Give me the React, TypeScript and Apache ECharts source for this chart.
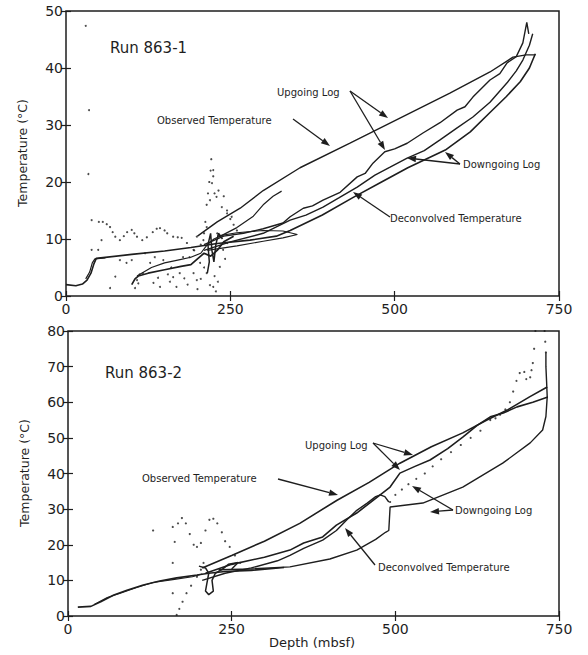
import React, { useEffect, useRef } from "react";
import * as echarts from "echarts";

type P = [number, number];

// ---------- axis ticks ----------
const depthTicks = [0, 250, 500, 750];
const run1TempTicks = [0, 10, 20, 30, 40, 50];
const run2TempTicks = [0, 10, 20, 30, 40, 50, 60, 70, 80];

// ---------- Run 863-1 (top panel) ----------
const run1Observed: P[] = [
  [200, 10.5], [230, 13], [265, 15.4], [300, 18.5], [356, 22.5], [432, 26.8], [508, 31.2],
  [584, 35.6], [645, 39.3], [680, 41.9], [700, 42.3], [714, 42.3],
];
const run1Upgoing: P[] = [
  [210, 9], [240, 10.5], [270, 11], [300, 11.8], [330, 12.8], [341, 13.9], [361, 15.4], [375, 15.8],
  [391, 16.8], [417, 18.2], [443, 20.9], [455, 21.5], [467, 23.3], [485, 25.3], [500, 25.8],
  [519, 26.8], [543, 28.6], [569, 30.4], [595, 32.6], [607, 33.2], [619, 34.9], [645, 37.9],
  [660, 39], [671, 40.9], [685, 42], [695, 44.4], [701, 48], [704, 46],
];
const run1Downgoing: P[] = [
  [210, 8], [250, 9.5], [300, 11], [341, 13.3], [365, 14.2], [391, 15.6], [415, 17.2], [443, 19.1],
  [470, 21.2], [493, 22.6], [519, 24.2], [545, 25.5], [569, 27.4], [595, 29.5], [619, 31.4],
  [645, 34], [671, 37.4], [685, 39.5], [695, 41.4], [705, 44], [710, 46],
];
const run1Deconvolved: P[] = [
  [0, 2], [15, 1.8], [25, 2.1], [32, 2.8], [38, 4], [42, 5.5], [46, 6.6], [100, 7.3], [150, 7.9],
  [190, 8.5], [230, 9.2], [280, 9.8], [320, 10.5], [341, 11.5], [390, 14.2], [437, 17.3],
  [480, 20], [520, 22.5], [577, 25.6], [615, 28.8], [645, 32.2], [670, 35], [691, 37.6],
  [705, 40], [714, 42.5],
];
const run1Loop: P[] = [
  [215, 8], [260, 8.8], [300, 9.6], [330, 10.2], [352, 10.8], [330, 11.4], [300, 11.5],
  [260, 11.1], [230, 10.5],
];
const run1ShallowA: P[] = [
  [100, 2], [105, 3], [110, 3.5], [125, 4], [150, 4.6], [175, 5.2], [190, 5.5], [200, 6.5],
  [210, 7.5], [220, 7], [230, 8], [240, 9.5], [255, 10.5],
];
const run1ShallowB: P[] = [
  [108, 3.5], [130, 5], [150, 5.8], [170, 6.3], [190, 6.8], [205, 7.5], [215, 9], [225, 10],
  [235, 10.5], [260, 12], [285, 14], [300, 16], [315, 17.5], [328, 18.4],
];
const run1ShallowC: P[] = [
  [30, 3], [36, 4.2], [40, 5.8], [44, 6.5], [60, 6.7],
];
const run1Tangle: P[] = [
  [215, 4], [218, 6], [216, 9], [220, 11], [222, 8], [225, 6], [228, 9], [232, 11], [238, 10],
];
const run1ObservedDots: P[] = [
  [50, 13], [56, 13], [62, 12.6], [67, 12.1], [71, 11.2], [75, 10.4], [82, 9.8], [88, 10.5],
  [93, 11.2], [100, 11.6], [104, 11], [108, 10.4], [116, 9.8], [123, 10.3], [132, 11.2],
  [138, 11.8], [143, 11.9], [150, 11.5], [154, 11], [163, 10.4], [170, 10.3], [176, 10.2],
  [184, 9.3], [195, 8], [205, 9], [210, 11], [212, 13], [214, 16], [216, 18], [218, 20],
  [220, 22], [221, 24], [224, 21], [226, 18], [232, 18.5], [240, 17.5], [245, 15], [250, 13.5],
  [255, 12.5], [260, 11.5],
];
const run1ScatterDots: P[] = [
  [30, 47.4], [35, 32.6], [34, 21.4], [39, 13.3], [54, 9.8], [39, 8.1], [49, 8.1], [75, 3.4],
  [67, 1.4], [82, 6.3], [92, 5.8], [100, 6.3], [108, 2.8], [117, 4], [128, 5.8], [133, 2.3],
  [143, 1.6], [148, 6.3], [158, 2.5], [163, 3.3], [168, 1.6], [173, 4], [178, 6.8], [188, 6.8],
  [194, 4], [199, 2.8], [204, 5.8], [214, 4], [219, 1.9], [224, 1.6], [231, 2.5], [234, 5.1],
  [239, 8.1], [245, 9.3], [230, 11], [214, 12.1], [222, 19.8], [224, 22.1], [219, 16.8],
  [229, 17.4], [237, 15.6], [245, 14.5], [252, 13.9], [209, 9.8], [194, 8.1], [199, 10.4],
  [105, 1.4], [110, 2.2], [112, 3.8], [140, 3.2], [160, 5], [185, 2], [205, 3], [228, 0.8],
  [120, 7.5], [135, 6.8], [155, 3.8], [180, 3.1], [200, 1.2], [210, 5], [226, 3.5], [242, 6.5],
];

// ---------- Run 863-2 (bottom panel) ----------
const run2Observed: P[] = [
  [205, 13.5], [250, 17], [300, 21], [354, 26], [411, 32.5], [460, 37.5], [507, 42.9],
  [555, 47.5], [603, 51.4], [640, 55], [671, 57.8], [705, 61.5], [732, 64.3],
];
const run2Upgoing: P[] = [
  [210, 12], [250, 14.5], [300, 16.5], [339, 18.5], [360, 20.5], [389, 22.2], [410, 25.5],
  [441, 28.9], [470, 33], [492, 36.2], [507, 40.1], [530, 42], [553, 43.8], [580, 47],
  [603, 50.2], [625, 53.5], [645, 55.9], [665, 57], [686, 58.7], [710, 60], [733, 61.5],
];
const run2Downgoing: P[] = [
  [205, 10], [240, 12], [280, 13.5], [320, 15.5], [339, 17], [360, 19], [389, 21.3], [410, 24],
  [426, 27], [440, 29.5], [457, 31.7], [470, 33.5], [477, 34], [484, 33.5], [490, 32],
];
const run2DowngoingDots: P[] = [
  [492, 32], [500, 34], [510, 35.5], [520, 37], [532, 38.5], [545, 40], [557, 42], [570, 44],
  [585, 46], [600, 48], [615, 50], [630, 52], [645, 55], [653, 55.5], [660, 56.5], [668, 58],
  [675, 60], [680, 63], [685, 66], [690, 68.2], [697, 68.5], [700, 66.5], [706, 67], [708, 69],
  [710, 71], [712, 75], [714, 80], [728, 80], [729, 77], [730, 74],
];
const run2Deconvolved: P[] = [
  [230, 13], [280, 13.2], [339, 13.8], [400, 16], [441, 18.5], [470, 21.5], [485, 23.5],
  [490, 24], [492, 30.6], [542, 31.7], [603, 36.2], [664, 42.9], [706, 48.6], [725, 52.2],
  [730, 56], [732, 61.5], [731, 66], [730, 70], [730, 74],
];
const run2Shallow: P[] = [
  [15, 2.5], [35, 2.7], [50, 4], [70, 5.9], [90, 7.2], [115, 8.7], [140, 9.8], [166, 10.7],
  [197, 11.5], [215, 12], [240, 12.5], [280, 12.8], [330, 13.6],
];
const run2ShallowB: P[] = [
  [40, 3.2], [60, 5.2], [80, 6.4], [105, 8], [130, 9.4], [160, 10.2], [190, 11], [205, 11.8],
];
const run2Tangle: P[] = [
  [200, 14], [210, 13.5], [215, 12], [212, 9], [210, 7], [215, 6], [222, 7], [220, 10],
  [225, 12], [235, 13], [245, 14.5], [260, 15], [250, 13.2],
];
const run2WaveDots: P[] = [
  [168, 26], [174, 27.5], [180, 26], [186, 23], [192, 20], [197, 19.4], [203, 20.5], [210, 24],
  [216, 27], [222, 27.3], [228, 26], [235, 23.5], [240, 21], [247, 19.4], [255, 17], [263, 14.9],
  [166, 0.3], [170, 2], [175, 4], [181, 6.4], [188, 8.5], [197, 11], [203, 13], [207, 14.9],
  [130, 24], [160, 25], [163, 20.8], [160, 14.9], [160, 6.4],
];

const FONT = "DejaVu Sans";
const INK = "#1e1e1e";

function arrow(x1: number, y1: number, x2: number, y2: number) {
  const dx = x2 - x1, dy = y2 - y1;
  const len = Math.sqrt(dx * dx + dy * dy);
  const ux = dx / len, uy = dy / len;
  const hl = 9, hw = 3.2;
  const bx = x2 - ux * hl, by = y2 - uy * hl;
  return [
    { type: "line", shape: { x1, y1, x2: bx, y2: by }, style: { stroke: INK, lineWidth: 1.3 } },
    {
      type: "polygon",
      shape: { points: [[x2, y2], [bx - uy * hw, by + ux * hw], [bx + uy * hw, by - ux * hw]] },
      style: { fill: INK },
    },
  ];
}

function label(text: string, x: number, y: number, size: number, align = "left") {
  return {
    type: "text",
    x, y,
    style: { text, fill: INK, font: `${size}px "${FONT}"`, textAlign: align, textVerticalAlign: "middle" },
  };
}

export default function App() {
  const ref = useRef<HTMLDivElement>(null);
  useEffect(() => {
    if (!ref.current) return;
    const chart = echarts.init(ref.current, null, { renderer: "svg" });

    const grids = [
      { left: 66, top: 11, width: 493, height: 285 },
      { left: 68, top: 331, width: 491, height: 285 },
    ];
    const gridOpt = grids.map((g) => ({ ...g, show: true, borderColor: INK, borderWidth: 1.5, backgroundColor: "transparent" }));

    const mkX = (gi: number, pos: "bottom" | "top", labels: boolean) => ({
      type: "value", gridIndex: gi, position: pos, min: 0, max: 750, interval: 250,
      axisLine: { show: false },
      axisTick: { show: true, inside: true, length: 5, lineStyle: { color: INK, width: 1.2 } },
      axisLabel: { show: labels, color: INK, fontFamily: FONT, fontSize: 14, margin: 6,
        formatter: (v: number) => (depthTicks.includes(v) ? String(v) : "") },
      splitLine: { show: false },
    });
    const mkY = (gi: number, pos: "left" | "right", max: number, ticks: number[], labels: boolean) => ({
      type: "value", gridIndex: gi, position: pos, min: 0, max, interval: 10,
      axisLine: { show: false },
      axisTick: { show: true, inside: true, length: 5, lineStyle: { color: INK, width: 1.2 } },
      axisLabel: { show: labels, color: INK, fontFamily: FONT, fontSize: 14, margin: 3,
        formatter: (v: number) => (ticks.includes(v) ? String(v) : "") },
      splitLine: { show: false },
    });

    const line = (data: P[], gi: number, width = 1.4, type: any = "solid") => ({
      type: "line", data, xAxisIndex: gi * 2, yAxisIndex: gi * 2, symbol: "none", smooth: false,
      lineStyle: { color: INK, width, type }, silent: true,
    });
    const dots = (data: P[], gi: number, size = 2.2) => ({
      type: "scatter", data, xAxisIndex: gi * 2, yAxisIndex: gi * 2, symbolSize: size,
      itemStyle: { color: INK }, silent: true,
    });

    const graphic: any[] = [
      label("Run 863-1", 110, 48, 15),
      label("Upgoing Log", 277, 92, 10),
      label("Observed Temperature", 157, 120, 10),
      label("Downgoing Log", 463, 164, 10),
      label("Deconvolved Temperature", 390, 218, 10),
      ...arrow(293, 119, 330, 146),
      ...arrow(350, 91, 388, 118),
      ...arrow(350, 91, 385, 150),
      ...arrow(460, 164, 407, 158),
      ...arrow(460, 164, 445, 152),
      ...arrow(390, 217, 353, 192),

      label("Run 863-2", 105, 373, 15),
      label("Upgoing Log", 305, 445, 10),
      label("Observed Temperature", 142, 478, 10),
      label("Downgoing Log", 455, 510, 10),
      label("Deconvolved Temperature", 378, 567, 10),
      ...arrow(278, 479, 338, 495),
      ...arrow(373, 443, 413, 455),
      ...arrow(373, 443, 400, 470),
      ...arrow(453, 510, 412, 486),
      ...arrow(453, 510, 430, 512),
      ...arrow(375, 565, 345, 528),

      {
        type: "text", x: 22, y: 153, rotation: Math.PI / 2,
        style: { text: "Temperature (°C)", fill: INK, font: `12.5px "${FONT}"`, textAlign: "center", textVerticalAlign: "middle" },
      },
      {
        type: "text", x: 24, y: 473, rotation: Math.PI / 2,
        style: { text: "Temperature (°C)", fill: INK, font: `12.5px "${FONT}"`, textAlign: "center", textVerticalAlign: "middle" },
      },
      label("Depth (mbsf)", 312, 642, 13, "center"),
    ];

    chart.setOption({
      animation: false,
      backgroundColor: "#ffffff",
      grid: gridOpt,
      xAxis: [mkX(0, "bottom", true), mkX(0, "top", false), mkX(1, "bottom", true), mkX(1, "top", false)],
      yAxis: [
        mkY(0, "left", 50, run1TempTicks, true), mkY(0, "right", 50, run1TempTicks, false),
        mkY(1, "left", 80, run2TempTicks, true), mkY(1, "right", 80, run2TempTicks, false),
      ],
      series: [
        line(run1Observed, 0),
        line(run1Upgoing, 0),
        line(run1Downgoing, 0),
        line(run1Deconvolved, 0, 1.6),
        line(run1Loop, 0, 1.1),
        line(run1ShallowA, 0, 1.7),
        line(run1ShallowB, 0, 1.2),
        line(run1ShallowC, 0, 1.2),
        line(run1Tangle, 0, 1.5),
        dots(run1ObservedDots, 0, 2.2),
        dots(run1ScatterDots, 0, 2),
        line(run2Observed, 1, 1.6),
        line(run2Upgoing, 1, 1.6),
        line(run2Downgoing, 1, 1.4),
        dots(run2DowngoingDots, 1, 2.2),
        line(run2Deconvolved, 1, 1.4),
        line(run2Shallow, 1, 1.6),
        line(run2ShallowB, 1, 1.1),
        line(run2Tangle, 1, 1.5),
        dots(run2WaveDots, 1, 2.2),
      ],
      graphic,
    });
    return () => chart.dispose();
  }, []);

  return <div ref={ref} style={{ position: "fixed", left: 0, top: 0, width: 588, height: 655 }} />;
}
